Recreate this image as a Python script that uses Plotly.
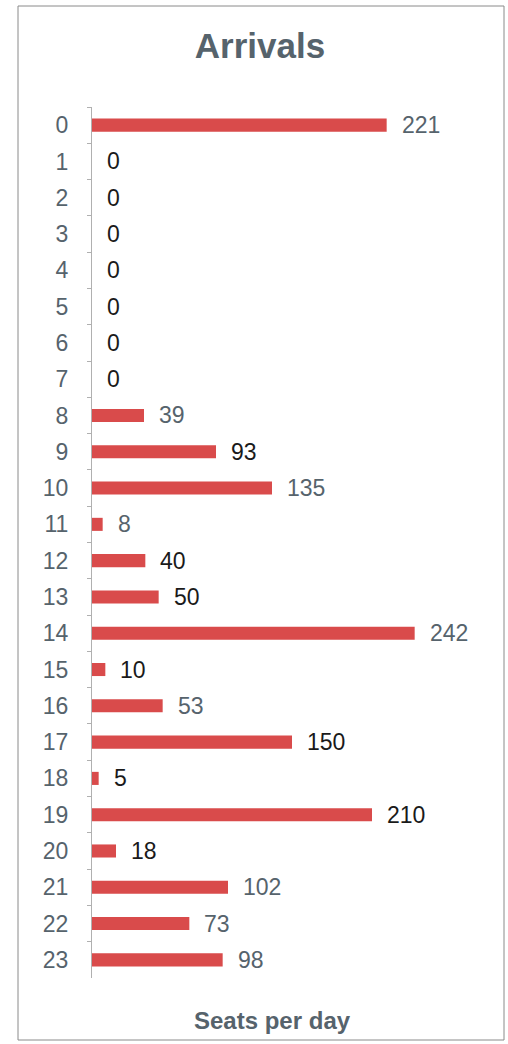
import plotly.graph_objects as go

hours = [str(h) for h in range(24)]
seats = [221, 0, 0, 0, 0, 0, 0, 0, 39, 93, 135, 8, 40, 50, 242, 10, 53, 150, 5, 210, 18, 102, 73, 98]
# labels that appear darker in the reference
dark_labels = {1, 2, 3, 4, 5, 6, 7, 9, 12, 13, 15, 17, 18, 19, 20}

title_text = "Arrivals"
x_title = "Seats per day"

W, H = 508, 1044
ML, MR, MT, MB = 92, 16, 107, 66
PW, PH = W - ML - MR, H - MT - MB

def px_to_paper_x(px):
    return (px - ML) / PW

def px_to_paper_y(py):
    return (H - MB - py) / PH

GRAY = "#56636c"
DARK = "#1a1a1a"

fig = go.Figure()
fig.add_trace(go.Bar(
    x=seats, y=hours, orientation="h",
    marker=dict(color="#d94b4b", line=dict(width=0)),
    width=0.36, hoverinfo="x+y",
))

for i, (h, v) in enumerate(zip(hours, seats)):
    fig.add_annotation(
        x=v, y=h, xref="x", yref="y", text=str(v), showarrow=False,
        xanchor="left", yanchor="middle", xshift=13,
        font=dict(family="Liberation Sans, Arial", size=23,
                  color=DARK if i in dark_labels else GRAY),
    )

fig.add_annotation(
    x=px_to_paper_x(272), y=px_to_paper_y(1020), xref="paper", yref="paper",
    text="<b>" + x_title + "</b>", showarrow=False,
    xanchor="center", yanchor="middle",
    font=dict(family="Liberation Sans, Arial", size=24, color=GRAY),
)

fig.add_shape(
    type="rect", xref="paper", yref="paper",
    x0=px_to_paper_x(18), x1=px_to_paper_x(504),
    y0=px_to_paper_y(1040), y1=px_to_paper_y(6),
    line=dict(color="#8a8a8a", width=1), layer="below",
)

fig.update_layout(
    width=W, height=H,
    margin=dict(l=ML, r=MR, t=MT, b=MB),
    paper_bgcolor="white", plot_bgcolor="white",
    showlegend=False,
    title=dict(text="<b>" + title_text + "</b>", x=260 / W, y=1 - 46 / H,
               xref="container", yref="container",
               xanchor="center", yanchor="middle",
               font=dict(family="Liberation Sans, Arial", size=35, color=GRAY)),
    xaxis=dict(range=[0, 300], showgrid=False, zeroline=False,
               showticklabels=False, showline=False, ticks=""),
    yaxis=dict(type="category", autorange="reversed", showgrid=False,
               zeroline=False, showline=True, linecolor="#b0b0b0", linewidth=1,
               ticks="outside", ticklen=4, tickcolor="#b0b0b0",
               tickson="boundaries", ticklabelstandoff=18,
               tickfont=dict(family="Liberation Sans, Arial", size=23, color=GRAY)),
)

fig.write_html("out.html", config={"displayModeBar": False},
               post_script="document.body.style.margin='0';document.body.style.overflow='hidden';")
